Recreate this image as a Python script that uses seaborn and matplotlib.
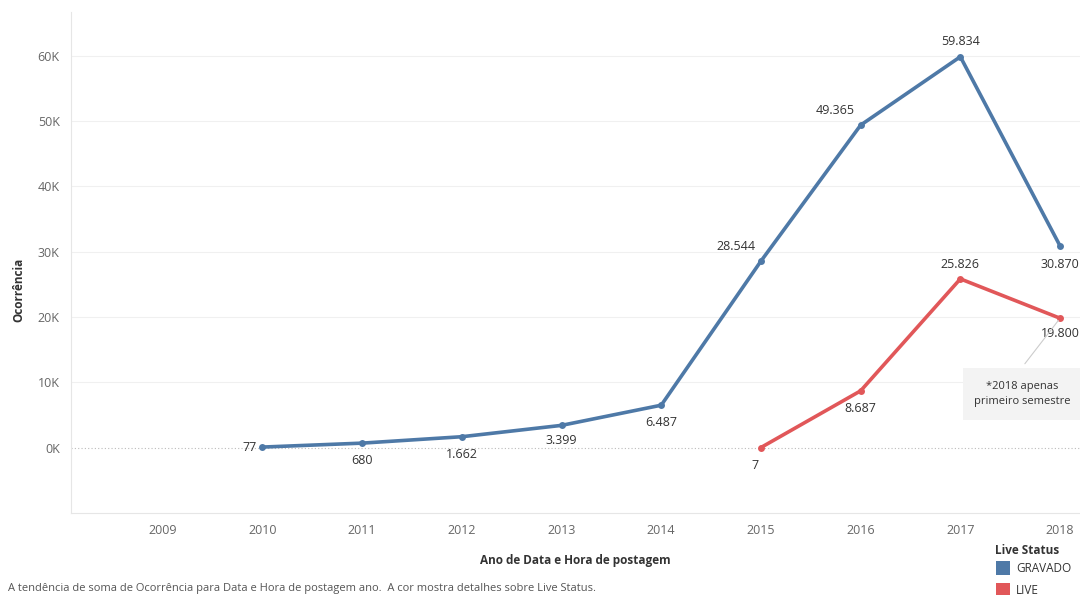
import matplotlib
matplotlib.use("Agg")
import matplotlib.pyplot as plt
import seaborn as sns
import pandas as pd
from matplotlib.patches import Rectangle

years_gravado = [2010, 2011, 2012, 2013, 2014, 2015, 2016, 2017, 2018]
vals_gravado = [77, 680, 1662, 3399, 6487, 28544, 49365, 59834, 30870]
years_live = [2015, 2016, 2017, 2018]
vals_live = [7, 8687, 25826, 19800]
xticks = [2009, 2010, 2011, 2012, 2013, 2014, 2015, 2016, 2017, 2018]
yticks = [0, 10000, 20000, 30000, 40000, 50000, 60000]
ytick_labels = ["0K", "10K", "20K", "30K", "40K", "50K", "60K"]
series = ["GRAVADO", "LIVE"]
colors = {"GRAVADO": "#4e79a7", "LIVE": "#e15759"}

df = pd.DataFrame({
    "Ano": years_gravado + years_live,
    "Ocorrência": vals_gravado + vals_live,
    "Live Status": ["GRAVADO"] * len(years_gravado) + ["LIVE"] * len(years_live),
})

sns.set_style("white")
plt.rcParams["font.family"] = ["Open Sans", "DejaVu Sans"]

fig = plt.figure(figsize=(10.8, 5.95), dpi=100)
ax = fig.add_axes([0.0657, 0.138, 0.9343, 0.842])

sns.lineplot(data=df, x="Ano", y="Ocorrência", hue="Live Status", palette=colors,
             marker="o", markersize=5, markeredgewidth=0, linewidth=2.6, ax=ax, legend=False)

ax.set_xlim(2008.08, 2018.2)
ax.set_ylim(-10000, 66700)
ax.set_xticks(xticks)
ax.set_xticklabels([str(x) for x in xticks], fontsize=9, color="#666666")
ax.set_yticks(yticks)
ax.set_yticklabels(ytick_labels, fontsize=9, color="#666666")
ax.tick_params(axis="both", length=0, pad=8)
for y in yticks[1:]:
    ax.axhline(y, color="#f0f0f0", linewidth=0.8, zorder=0)
ax.axhline(0, color="#bbbbbb", linewidth=0.8, linestyle=(0, (1, 2)), zorder=0)
for s in ["top", "right"]:
    ax.spines[s].set_visible(False)
ax.spines["left"].set_color("#e6e6e6")
ax.spines["bottom"].set_color("#e6e6e6")
ax.set_xlabel("Ano de Data e Hora de postagem", fontsize=8.5, color="#333333",
              fontweight="bold", labelpad=12)
ax.set_ylabel("Ocorrência", fontsize=8.5, color="#333333", fontweight="bold")
ax.yaxis.set_label_coords(-(71 - 25) / (0.9343 * 1080), (513 - 290) / (0.842 * 595))

def fmt(v):
    return f"{v:,}".replace(",", ".")

# labels: (dx points, dy points, ha, va)
pos_g = [(-4, 0, "right", "center"), (0, -8, "center", "top"), (0, -8, "center", "top"),
         (0, -6, "center", "top"), (0, -8, "center", "top"), (-4, 6, "right", "bottom"),
         (-4, 6, "right", "bottom"), (0, 6, "center", "bottom"), (0, -9, "center", "top")]
pos_l = [(-4, -8, "center", "top"), (0, -8, "center", "top"), (0, 6, "center", "bottom"),
         (0, -6, "center", "top")]
labels_g = [fmt(v) for v in vals_gravado]
labels_l = [fmt(v) for v in vals_live]
for (x, v, lab, p) in zip(years_gravado, vals_gravado, labels_g, pos_g):
    ax.annotate(lab, (x, v), xytext=(p[0], p[1]), textcoords="offset points",
                ha=p[2], va=p[3], fontsize=9, color="#333333", annotation_clip=False)
for (x, v, lab, p) in zip(years_live, vals_live, labels_l, pos_l):
    ax.annotate(lab, (x, v), xytext=(p[0], p[1]), textcoords="offset points",
                ha=p[2], va=p[3], fontsize=9, color="#333333", annotation_clip=False)

# note box
ax.annotate("", xy=(2018, vals_live[-1]), xytext=(2017.63, 12500),
            arrowprops=dict(arrowstyle="-", color="#cccccc", lw=0.8))
fig.patches.append(Rectangle((963 / 1080, 1 - 420 / 595), 117 / 1080, 52 / 595,
                             transform=fig.transFigure, facecolor="#f3f3f3",
                             edgecolor="none", zorder=5))
fig.text(1022 / 1080, 1 - 394 / 595, "*2018 apenas\nprimeiro semestre", ha="center",
         va="center", fontsize=8, color="#333333", linespacing=1.4, zorder=6)

# legend
fig.text(995 / 1080, 1 - 550 / 595, "Live Status", fontsize=8.5, fontweight="bold",
         color="#333333", va="center", ha="left")
for i, s in enumerate(series):
    yc = 568 + 22 * i
    fig.patches.append(Rectangle((996 / 1080, 1 - (yc + 7) / 595), 14 / 1080, 14 / 595,
                                 transform=fig.transFigure, facecolor=colors[s],
                                 edgecolor="none"))
    fig.text(1016 / 1080, 1 - yc / 595, s, fontsize=8.5, color="#333333", va="center",
             ha="left")

fig.text(8 / 1080, 1 - 589 / 595,
         "A tendência de soma de Ocorrência para Data e Hora de postagem ano.  A cor mostra detalhes sobre Live Status.",
         fontsize=8, color="#555555", va="center", ha="left")

fig.savefig("out.png", dpi=100)
